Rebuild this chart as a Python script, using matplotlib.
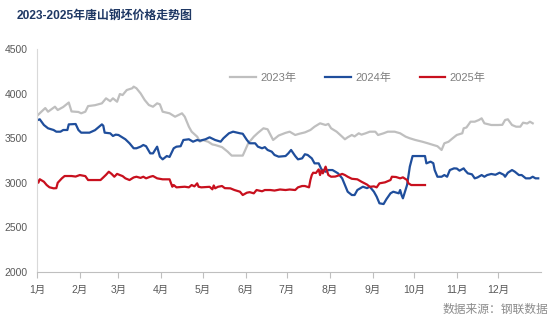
import matplotlib
matplotlib.use("Agg")
import matplotlib.pyplot as plt

plt.rcParams['font.family'] = ['Liberation Sans', 'Noto Sans CJK SC', 'DejaVu Sans']

# day of year (0 = 1 Jan) and price (yuan/t)
days_2023 = [0, 2, 6, 8, 13, 15, 19, 23, 25, 30, 32, 35, 37, 42, 47, 50, 53, 55, 58, 60,
             62, 65, 69, 70, 72, 75, 78, 81, 84, 87, 89, 91, 96, 100, 105, 107, 110, 112, 116, 118,
             120, 124, 127, 129, 134, 138, 141, 149, 153, 157, 160, 164, 167, 171, 175, 180, 183, 187, 190, 194,
             198, 201, 205, 209, 211, 213, 217, 221, 223, 225, 228, 230, 233, 235, 238, 241, 245, 247, 251, 254,
             259, 263, 267, 270, 274, 279, 283, 287, 290, 293, 295, 298, 301, 304, 308, 309, 311, 314, 317, 320,
             322, 324, 329, 334, 337, 339, 341, 344, 347, 350, 352, 355, 357, 359]
price_2023 = [3750, 3780, 3838, 3797, 3853, 3816, 3850, 3900, 3800, 3794, 3779, 3797, 3860, 3870, 3891, 3947, 3915, 3947, 3909, 3995,
              3984, 4040, 4060, 4078, 4060, 4003, 3928, 3872, 3853, 3891, 3880, 3797, 3779, 3741, 3779, 3741, 3629, 3573, 3517, 3461,
              3480, 3460, 3430, 3424, 3400, 3350, 3305, 3305, 3443, 3517, 3560, 3611, 3600, 3480, 3530, 3560, 3573, 3536, 3550, 3565,
              3592, 3629, 3667, 3648, 3660, 3611, 3573, 3517, 3488, 3510, 3536, 3520, 3555, 3540, 3555, 3573, 3573, 3536, 3555, 3573,
              3573, 3555, 3517, 3499, 3480, 3461, 3443, 3424, 3410, 3368, 3443, 3460, 3499, 3536, 3555, 3611, 3620, 3685, 3685, 3704,
              3723, 3667, 3648, 3648, 3650, 3704, 3712, 3648, 3629, 3629, 3674, 3665, 3685, 3667]

days_2024 = [0, 2, 5, 8, 12, 14, 17, 19, 22, 23, 28, 30, 32, 38, 42, 47, 48, 49, 53, 55,
             57, 59, 61, 64, 67, 70, 72, 75, 77, 79, 82, 84, 87, 89, 91, 94, 96, 99, 101, 104,
             106, 110, 112, 113, 116, 118, 122, 125, 127, 129, 133, 135, 139, 142, 147, 149, 152, 154, 158, 160,
             163, 165, 167, 170, 172, 175, 180, 182, 184, 187, 189, 192, 194, 196, 199, 201, 204, 206, 209, 211,
             214, 216, 218, 221, 223, 225, 228, 230, 232, 234, 236, 239, 241, 244, 246, 248, 251, 253, 256, 258,
             262, 263, 264, 265, 268, 270, 272, 281, 282, 285, 287, 288, 290, 293, 295, 297, 299, 302, 304, 306,
             309, 310, 312, 315, 317, 319, 322, 324, 326, 329, 332, 335, 338, 339, 341, 344, 346, 349, 351, 354,
             357, 359, 361, 363]
price_2024 = [3700, 3712, 3648, 3611, 3592, 3573, 3573, 3592, 3592, 3655, 3659, 3592, 3562, 3562, 3590, 3655, 3640, 3562, 3555, 3525,
              3540, 3536, 3517, 3488, 3443, 3387, 3387, 3405, 3424, 3410, 3330, 3330, 3405, 3293, 3263, 3300, 3290, 3387, 3405, 3410,
              3480, 3488, 3470, 3461, 3480, 3472, 3488, 3510, 3495, 3480, 3461, 3499, 3555, 3573, 3555, 3550, 3480, 3443, 3443, 3405,
              3387, 3400, 3368, 3349, 3312, 3293, 3300, 3330, 3368, 3300, 3263, 3274, 3320, 3312, 3274, 3218, 3218, 3151, 3124, 3143,
              3143, 3124, 3106, 3050, 2975, 2900, 2863, 2863, 2919, 2938, 2956, 2940, 2956, 2900, 2844, 2770, 2762, 2815, 2882, 2900,
              2882, 2919, 2863, 2826, 2975, 3181, 3300, 3300, 3218, 3237, 3220, 3143, 3068, 3068, 3087, 3068, 3143, 3162, 3160, 3136,
              3162, 3140, 3106, 3095, 3050, 3060, 3087, 3068, 3087, 3099, 3090, 3113, 3090, 3068, 3113, 3143, 3125, 3087, 3087, 3050,
              3050, 3068, 3050, 3050]

days_2025 = [0, 1, 2, 5, 7, 9, 12, 14, 15, 18, 20, 25, 28, 31, 35, 37, 46, 48, 50, 52,
             54, 56, 58, 60, 62, 64, 67, 70, 72, 75, 77, 79, 82, 84, 87, 91, 96, 98, 99, 101,
             107, 110, 112, 114, 116, 117, 119, 125, 127, 128, 129, 131, 134, 136, 140, 143, 147, 149, 152, 154,
             157, 159, 163, 165, 169, 172, 176, 180, 183, 187, 189, 192, 194, 197, 198, 199, 200, 202, 204, 205,
             206, 207, 209, 211, 213, 216, 218, 221, 223, 225, 228, 232, 235, 239, 241, 244, 246, 248, 252, 256,
             257, 260, 263, 265, 268, 269, 271, 281]
price_2025 = [3035, 3001, 3040, 3012, 2975, 2950, 2938, 2940, 3000, 3050, 3076, 3076, 3070, 3087, 3075, 3031, 3031, 3060, 3090, 3124,
              3100, 3068, 3100, 3087, 3075, 3050, 3031, 3060, 3068, 3055, 3068, 3050, 3068, 3076, 3050, 3039, 3039, 2956, 2975, 2949,
              2956, 2949, 2975, 2960, 2994, 2956, 2949, 2955, 2927, 2970, 2938, 2955, 2964, 2940, 2938, 2919, 2900, 2863, 2889, 2895,
              2882, 2919, 2905, 2919, 2919, 2913, 2925, 2919, 2925, 2919, 2949, 2964, 2964, 2949, 3031, 3087, 3113, 3110, 3150, 3087,
              3140, 3106, 3181, 3087, 3068, 3070, 3080, 3100, 3087, 3068, 3045, 3039, 3012, 2980, 2955, 2960, 2949, 2994, 3005, 3031,
              3068, 3065, 3050, 3061, 3031, 2994, 2975, 2975]

month_starts = [0, 31, 59, 90, 120, 151, 181, 212, 243, 273, 304, 334]
month_labels = ['1月', '2月', '3月', '4月', '5月', '6月', '7月', '8月', '9月', '10月', '11月', '12月']

fig = plt.figure(figsize=(5.54, 3.27), dpi=100)
ax = fig.add_axes([37 / 554, 55 / 327, 504 / 554, 223 / 327])

ax.plot(days_2023, price_2023, color='#BFBFBF', lw=1.6, label='2023年')
ax.plot(days_2024, price_2024, color='#1F4E9C', lw=1.6, label='2024年')
ax.plot(days_2025, price_2025, color='#C8101E', lw=1.6, label='2025年')

ax.set_xlim(0, 365)
ax.set_ylim(2000, 4500)
ax.set_yticks(range(2000, 4501, 500))
ax.set_xticks(month_starts)
ax.set_xticklabels(month_labels)

for s in ['top', 'right']:
    ax.spines[s].set_visible(False)
ax.spines['left'].set_color('#D9D9D9')
ax.spines['bottom'].set_color('#BFBFBF')
ax.tick_params(axis='y', length=0, pad=7, labelsize=7.5, labelcolor='#595959')
ax.tick_params(axis='x', length=4, color='#BFBFBF', pad=5, labelsize=7.5, labelcolor='#595959')

fig.legend(loc='center', bbox_to_anchor=(358 / 554, 1 - 78 / 327), ncol=3, frameon=False,
           fontsize=8, labelcolor='#7F7F7F', handlelength=2.3, handletextpad=0.4, columnspacing=2.6)

fig.text(17 / 554, 1 - 16 / 327, '2023-2025年唐山钢坯价格走势图', fontsize=8.6, fontweight='bold',
         color='#1F3864', va='center', ha='left')
fig.text(548 / 554, 1 - 310 / 327, '数据来源：钢联数据', fontsize=8.5, color='#8C8C8C',
         va='center', ha='right')

fig.savefig('out.png', dpi=100)
